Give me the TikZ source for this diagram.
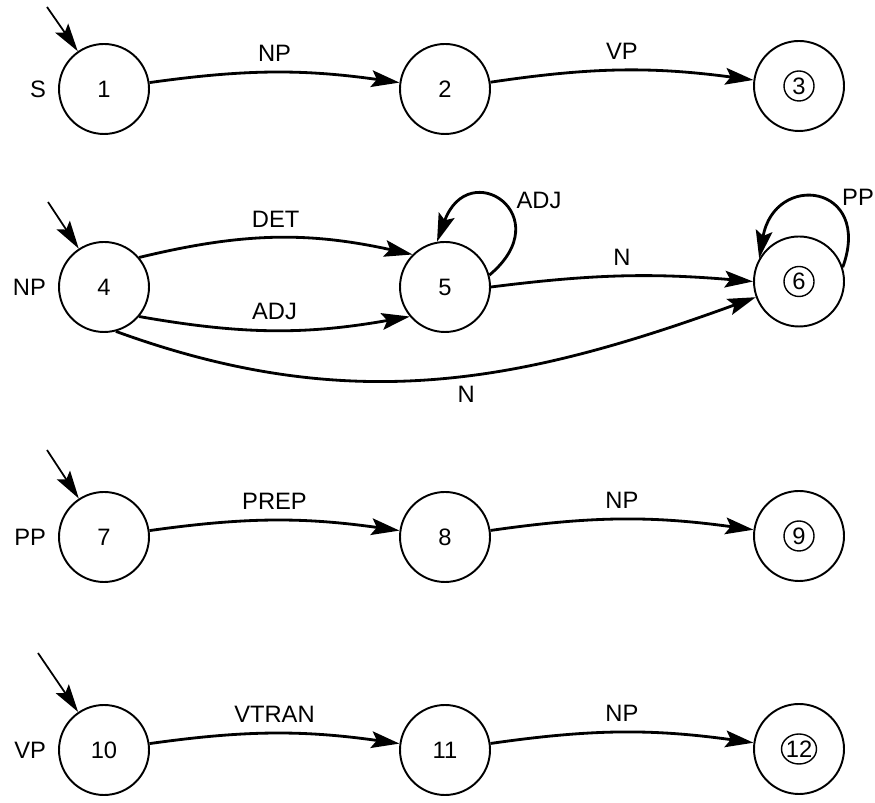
\documentclass[tikz,border=0pt]{standalone}
\usepackage{fontspec}
\setmainfont{Liberation Sans}
\usetikzlibrary{arrows.meta,positioning}

\begin{document}
\begin{tikzpicture}[
    font=\fontsize{13.5}{15}\selectfont,
    state/.style={draw, circle, line width=1.1pt, minimum size=1.8cm, inner sep=0pt},
    accept/.style={state, path picture={\draw[line width=0.8pt] (path picture bounding box.center) ellipse ({#1} and 0.3cm);}},
    accept/.default=0.3cm,
    trans/.style={draw, line width=1.6pt, -{Stealth[length=16pt,width=9.5pt,inset=3pt]}},
    entry/.style={draw, line width=1pt, -{Stealth[length=16pt,width=9pt,inset=3pt]}}
]
    \useasboundingbox (0,0) rectangle (17.5,16.06);

    % S network
    \node[state] (s1) at (2.08,14.28) {1};
    \node[state] (s2) at (8.90,14.28) {2};
    \node[accept] (s3) at (15.98,14.34) {3};
    \node[left=0.2cm of s1, inner sep=1pt] (nS) {S};
    \coordinate (in1) at (0.94,15.92);
    \draw[entry] (in1) -- (s1);
    \draw[trans] (s1) to[bend left=8] node[above=2pt] (lNP1) {NP} (s2);
    \draw[trans] (s2) to[bend left=8] node[above=2pt] (lVP1) {VP} (s3);

    % NP network
    \node[state] (s4) at (2.08,10.32) {4};
    \node[state] (s5) at (8.90,10.32) {5};
    \node[accept] (s6) at (15.98,10.43) {6};
    \node[left=0.2cm of s4, inner sep=1pt] (nNP) {NP};
    \coordinate (in4) at (0.96,12.02);
    \draw[entry] (in4) -- (s4);
    \draw[trans] (s4.40) to[bend left=13] node[above=2pt] (lDET) {DET} (s5.135);
    \draw[trans] (s4.-40) to[bend right=10] node[above=2pt] (lADJ1) {ADJ} (s5.-140);
    \draw[trans] (s5.15) to[out=40, in=70, looseness=3.8] (s5.100);
    \node (lADJ2) at (10.78,12.06) {ADJ};
    \draw[trans] (s5.0) to[bend left=6] node[above=2pt] (lN1) {N} (s6.180);
    \draw[trans] (s4.-75) to[out=-20, in=200] node[pos=0.55, below=2pt] (lN2) {N} (s6.200);
    \draw[trans] (s6.18) to[out=70, in=80, looseness=2.7] (s6.150);
    \node (lPP1) at (17.16,12.12) {PP};

    % PP network
    \node[state] (s7) at (2.08,5.32) {7};
    \node[state] (s8) at (8.90,5.32) {8};
    \node[accept] (s9) at (15.98,5.34) {9};
    \node[left=0.2cm of s7, inner sep=1pt] (nPP) {PP};
    \coordinate (in7) at (0.94,7.06);
    \draw[entry] (in7) -- (s7);
    \draw[trans] (s7) to[bend left=8] node[above=2pt] (lPREP) {PREP} (s8);
    \draw[trans] (s8) to[bend left=8] node[above=2pt] (lNP2) {NP} (s9);

    % VP network
    \node[state] (s10) at (2.08,1.06) {10};
    \node[state] (s11) at (8.90,1.06) {11};
    \node[accept=0.35cm] (s12) at (15.98,1.08) {12};
    \node[left=0.2cm of s10, inner sep=1pt] (nVP) {VP};
    \coordinate (in10) at (0.76,3.00);
    \draw[entry] (in10) -- (s10);
    \draw[trans] (s10) to[bend left=8] node[above=2pt] (lVTRAN) {VTRAN} (s11);
    \draw[trans] (s11) to[bend left=8] node[above=2pt] (lNP3) {NP} (s12);
\end{tikzpicture}
\end{document}
